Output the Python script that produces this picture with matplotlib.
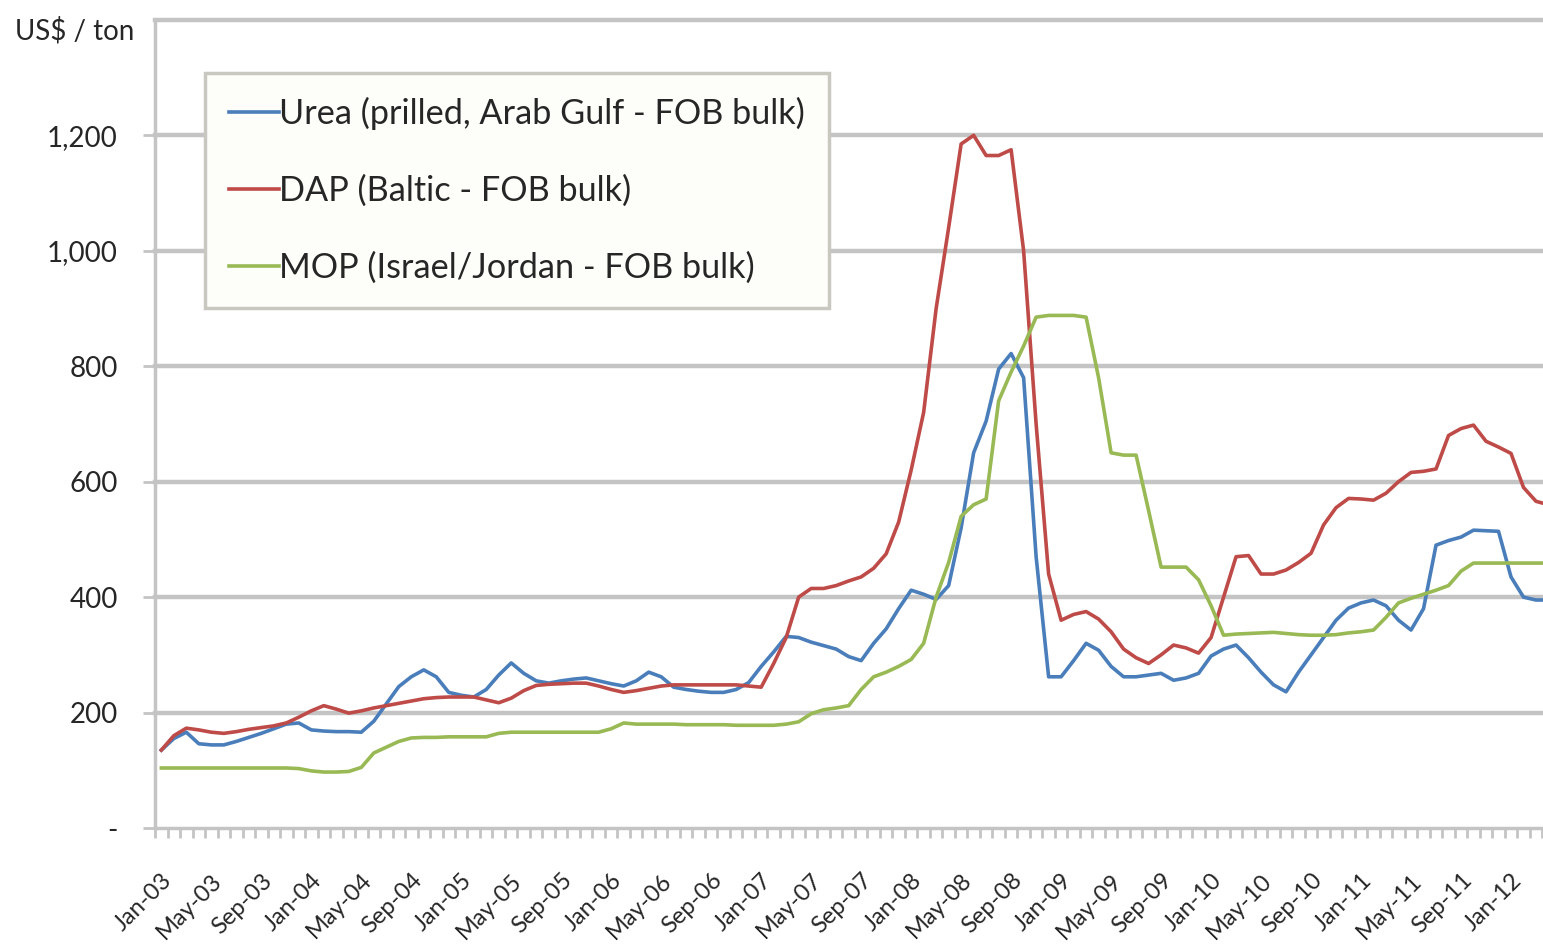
import matplotlib.pyplot as plt
import numpy as np

# Monthly prices, US$/ton, Jan-03 onwards
urea = [135, 155, 166, 146, 144, 144, 150, 157, 164, 172, 180, 182,
        170, 168, 167, 167, 166, 185, 215, 245, 262, 274, 262, 235,
        230, 227, 240, 265, 286, 268, 255, 251, 255, 258, 260, 255,
        250, 246, 255, 270, 262, 244, 240, 237, 235, 235, 240, 252,
        280, 305, 332, 330, 322, 316, 310, 297, 290, 320, 345, 380,
        412, 405, 396, 420, 520, 650, 705, 795, 822, 780, 470, 262,
        262, 290, 320, 308, 280, 262, 262, 265, 268, 256, 260, 268,
        298, 310, 317, 295, 270, 248, 236, 270, 300, 330, 360, 381,
        390, 395, 385, 360, 343, 380, 490, 498, 504, 516, 515, 514,
        435, 400, 395, 395]
dap = [135, 160, 173, 170, 166, 164, 167, 171, 174, 177, 182, 192,
       203, 212, 206, 199, 203, 208, 212, 216, 220, 224, 226, 227,
       227, 227, 222, 217, 225, 238, 247, 249, 250, 251, 251, 246,
       240, 235, 238, 242, 246, 248, 248, 248, 248, 248, 248, 246,
       244, 285, 330, 400, 415, 415, 420, 428, 435, 450, 475, 530,
       620, 720, 900, 1040, 1185, 1200, 1165, 1165, 1175, 1000, 700, 440,
       360, 370, 375, 362, 340, 310, 295, 285, 300, 317, 312, 303,
       330, 400, 470, 472, 440, 440, 447, 460, 476, 525, 555, 571,
       570, 568, 580, 600, 616, 618, 622, 680, 692, 698, 670, 660,
       649, 590, 566, 560]
mop = [104, 104, 104, 104, 104, 104, 104, 104, 104, 104, 104, 103,
       99, 97, 97, 98, 105, 130, 140, 150, 156, 157, 157, 158,
       158, 158, 158, 164, 166, 166, 166, 166, 166, 166, 166, 166,
       172, 182, 180, 180, 180, 180, 179, 179, 179, 179, 178, 178,
       178, 178, 180, 184, 198, 205, 208, 212, 240, 262, 270, 280,
       292, 320, 400, 460, 540, 560, 570, 740, 790, 835, 885, 888,
       888, 888, 885, 780, 650, 646, 646, 550, 452, 452, 452, 430,
       385, 334, 336, 337, 338, 339, 337, 335, 334, 334, 335, 338,
       340, 343, 365, 390, 398, 405, 412, 420, 445, 459, 459, 459,
       459, 459, 459, 459]

series_names = ["Urea (prilled, Arab Gulf - FOB bulk)",
                "DAP (Baltic - FOB bulk)",
                "MOP (Israel/Jordan - FOB bulk)"]
colors = ["#4a7ebb", "#be4b48", "#98b954"]

tick_labels = ["Jan-03", "May-03", "Sep-03", "Jan-04", "May-04", "Sep-04",
               "Jan-05", "May-05", "Sep-05", "Jan-06", "May-06", "Sep-06",
               "Jan-07", "May-07", "Sep-07", "Jan-08", "May-08", "Sep-08",
               "Jan-09", "May-09", "Sep-09", "Jan-10", "May-10", "Sep-10",
               "Jan-11", "May-11", "Sep-11", "Jan-12"]
y_ticks = [0, 200, 400, 600, 800, 1000, 1200]
y_labels = ["-", "200", "400", "600", "800", "1,000", "1,200"]

plt.rcParams['font.family'] = ['Lato', 'DejaVu Sans']
grid_col = "#c4c4c4"
txt_col = "#262626"

fig = plt.figure(figsize=(15.43, 9.46), dpi=100)
ax = fig.add_axes([0.1005, 0.1247, 0.8995, 0.8543])

months = np.arange(len(urea))
for vals, name, col in zip([urea, dap, mop], series_names, colors):
    ax.plot(months, vals, color=col, lw=2.6, label=name,
            solid_joinstyle='round', zorder=3)

ax.set_xlim(-0.5, 110.56)
ax.set_ylim(0, 1400)

# gridlines
for y in y_ticks[1:] + [1400]:
    ax.axhline(y, color=grid_col, lw=3.2, zorder=1, clip_on=False)

for s in ['top', 'right']:
    ax.spines[s].set_visible(False)
for s in ['left', 'bottom']:
    ax.spines[s].set_color(grid_col)
    ax.spines[s].set_linewidth(2.5)

ax.set_yticks(y_ticks)
ax.set_yticklabels(y_labels)
ax.tick_params(axis='y', direction='out', length=9, width=2, color=grid_col,
               labelsize=20, labelcolor=txt_col, pad=18)

ax.set_xticks(np.arange(0, len(tick_labels) * 4, 4))
ax.set_xticklabels(tick_labels, rotation=45, ha='right', va='top',
                   rotation_mode='anchor')
ax.tick_params(axis='x', length=0, labelsize=17, labelcolor=txt_col, pad=30)
ax.set_xticks(np.arange(-0.5, 111, 1), minor=True)
ax.tick_params(axis='x', which='minor', direction='out', length=7, width=2,
               color=grid_col)

fig.text(0.01, 0.968, "US$ / ton", fontsize=20, color=txt_col, va='center')

leg = ax.legend(loc='upper left', bbox_to_anchor=(0.036, 0.934),
                borderaxespad=0, fontsize=24.7, handlelength=1.45,
                handletextpad=0.0, labelspacing=1.3, borderpad=0.7,
                fancybox=False, framealpha=1, facecolor='#fdfdfa',
                edgecolor='#c8c8c0')
leg.get_frame().set_linewidth(2.5)
for t in leg.get_texts():
    t.set_color(txt_col)

fig.savefig("out.png", dpi=100)
